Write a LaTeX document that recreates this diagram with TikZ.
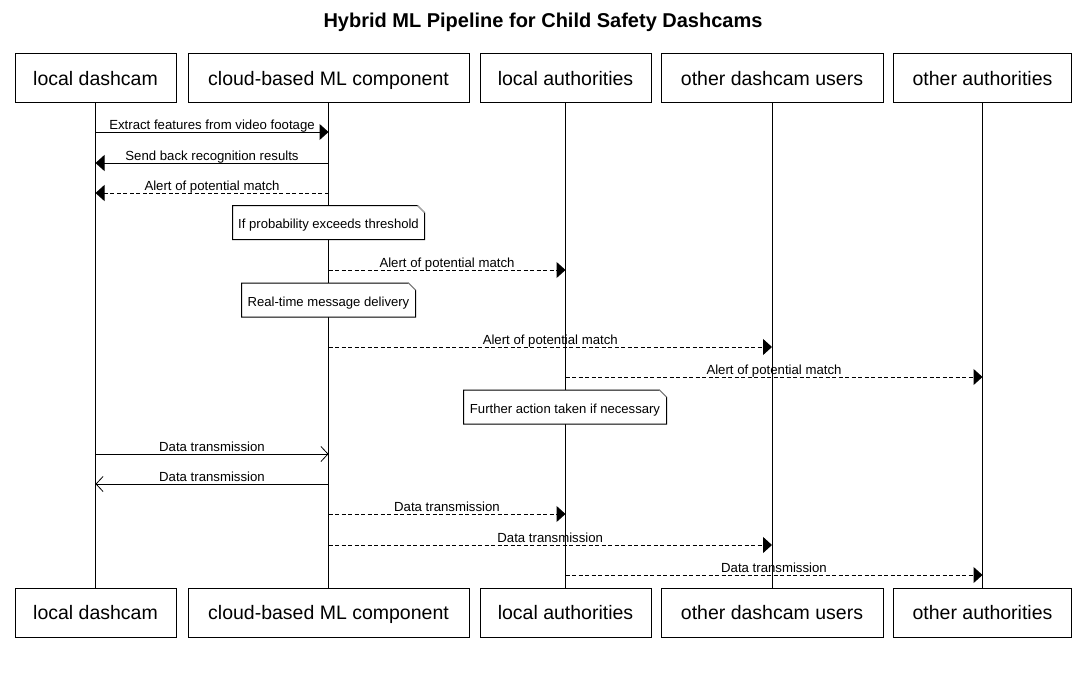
\documentclass[tikz,border=0pt]{standalone}
\usepackage{fontspec}
\setmainfont{Liberation Sans}
\usetikzlibrary{arrows.meta}
\begin{document}
\begin{tikzpicture}[x=1pt,y=-1pt,line width=1pt,
  part/.style={draw,fill=white,minimum height=49pt,inner sep=0pt,text height=16pt,text depth=2pt,font=\fontsize{19.5}{23}\selectfont},
  lifeline/.style={line width=0.9pt},
  msglabel/.style={font=\fontsize{13.2}{16}\selectfont,inner sep=0pt,anchor=base,yshift=2.5pt},
  sync/.style={-{Triangle[length=9pt,width=16pt]}},
  open/.style={-{Straight Barb[length=7pt,width=15pt,line width=0.8pt]}},
  reply/.style={dash pattern=on 4pt off 2.5pt},
  notebox/.style={draw=none,fill=none,inner sep=0pt,text height=12.7pt,text depth=0pt,font=\fontsize{13.1}{16}\selectfont},
  fold/.style={draw=gray!70,line width=0.8pt}
]
\useasboundingbox (0,0) rectangle (1086,672);
\node[font=\bfseries\fontsize{20}{24}\selectfont] (title) at (543,22) {Hybrid ML Pipeline for Child Safety Dashcams};

% participants top
\node[part,minimum width=161pt] (ld) at (95.5,78) {local dashcam};
\node[part,minimum width=281pt] (cl) at (328.5,78) {cloud-based ML component};
\node[part,minimum width=171pt] (la) at (565.5,78) {local authorities};
\node[part,minimum width=222pt] (od) at (772,78) {other dashcam users};
\node[part,minimum width=178pt] (oa) at (982.5,78) {other authorities};
% participants bottom
\node[part,minimum width=161pt] (ldb) at (95.5,612.5) {local dashcam};
\node[part,minimum width=281pt] (clb) at (328.5,612.5) {cloud-based ML component};
\node[part,minimum width=171pt] (lab) at (565.5,612.5) {local authorities};
\node[part,minimum width=222pt] (odb) at (772,612.5) {other dashcam users};
\node[part,minimum width=178pt] (oab) at (982.5,612.5) {other authorities};

% lifelines
\draw[lifeline] (ld.south) -- (ldb.north);
\draw[lifeline] (cl.south) -- (clb.north);
\draw[lifeline] (la.south) -- (lab.north);
\draw[lifeline] (od.south) -- (odb.north);
\draw[lifeline] (oa.south) -- (oab.north);

% message end points
\foreach \n/\y in {1/132,2/163,3/193,5/270,7/347,8/377,10/454,11/484,12/514,13/545,14/575}{
  \coordinate (ld\n) at (ld.south |- 0,\y);
  \coordinate (cl\n) at (cl.south |- 0,\y);
  \coordinate (la\n) at (la.south |- 0,\y);
  \coordinate (od\n) at (od.south |- 0,\y);
  \coordinate (oa\n) at (oa.south |- 0,\y);
}

% messages
\draw[sync] (ld1) -- node[msglabel] {Extract features from video footage} (cl1);
\draw[sync] (cl2) -- node[msglabel] {Send back recognition results} (ld2);
\draw[sync,reply] (cl3) -- node[msglabel] {Alert of potential match} (ld3);

% note 1
\node[notebox,minimum width=191pt,minimum height=33pt] (n1) at (328.5,222.5) {};
\draw[fill=white] (n1.north west) -- ([xshift=-7pt]n1.north east) -- ([yshift=-7pt]n1.north east) -- (n1.south east) -- (n1.south west) -- cycle;
\draw[fold] ([xshift=-7pt]n1.north east) -- ([yshift=-7pt]n1.north east);
\node[notebox] (t1) at (n1) {If probability exceeds threshold};

\draw[sync,reply] (cl5) -- node[msglabel] {Alert of potential match} (la5);

% note 2
\node[notebox,minimum width=173pt,minimum height=33pt] (n2) at (328.5,300) {};
\draw[fill=white] (n2.north west) -- ([xshift=-7pt]n2.north east) -- ([yshift=-7pt]n2.north east) -- (n2.south east) -- (n2.south west) -- cycle;
\draw[fold] ([xshift=-7pt]n2.north east) -- ([yshift=-7pt]n2.north east);
\node[notebox] (t2) at (n2) {Real-time message delivery};

\draw[sync,reply] (cl7) -- node[msglabel] {Alert of potential match} (od7);
\draw[sync,reply] (la8) -- node[msglabel] {Alert of potential match} (oa8);

% note 3
\node[notebox,minimum width=202pt,minimum height=33pt] (n3) at (565,407) {};
\draw[fill=white] (n3.north west) -- ([xshift=-7pt]n3.north east) -- ([yshift=-7pt]n3.north east) -- (n3.south east) -- (n3.south west) -- cycle;
\draw[fold] ([xshift=-7pt]n3.north east) -- ([yshift=-7pt]n3.north east);
\node[notebox] (t3) at (n3) {Further action taken if necessary};

\draw[open] (ld10) -- node[msglabel] {Data transmission} (cl10);
\draw[open] (cl11) -- node[msglabel] {Data transmission} (ld11);
\draw[sync,reply] (cl12) -- node[msglabel] {Data transmission} (la12);
\draw[sync,reply] (cl13) -- node[msglabel] {Data transmission} (od13);
\draw[sync,reply] (la14) -- node[msglabel] {Data transmission} (oa14);
\end{tikzpicture}
\end{document}
